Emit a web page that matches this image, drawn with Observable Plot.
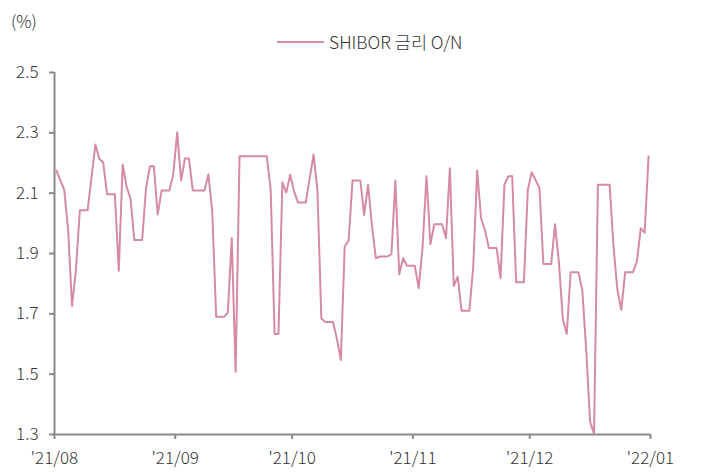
<!DOCTYPE html>
<html>
<head>
<meta charset="utf-8">
<script src="https://cdn.jsdelivr.net/npm/d3@7"></script>
<script src="https://cdn.jsdelivr.net/npm/@observablehq/plot@0.6"></script>
<style>
  html, body { margin: 0; padding: 0; background: #fff; }
  #wrap { position: relative; width: 702px; height: 473px; font-family: "Noto Sans CJK KR", "Noto Sans", sans-serif; font-weight: 300; color: #333; }
  #unit { position: absolute; left: 11px; top: 8px; font-size: 17px; }
  #legend { position: absolute; left: 277px; top: 29px; font-size: 17.5px; display: flex; align-items: center; white-space: nowrap; }
  #legend .sw { width: 47px; height: 2px; background: #d48ba3; margin-right: 5px; }
  #chart { position: absolute; left: 0; top: 0; }
</style>
</head>
<body>
<div id="wrap">
  <div id="chart"></div>
  <div id="unit">(%)</div>
  <div id="legend"><span class="sw"></span><span id="legendLabel"></span></div>
</div>
<script>
const seriesName = "SHIBOR 금리 O/N";
const unitLabel = "(%)";
const dates = ["2021-08-01","2021-08-02","2021-08-04","2021-08-05","2021-08-06","2021-08-07","2021-08-08","2021-08-10","2021-08-12","2021-08-13","2021-08-14","2021-08-15","2021-08-17","2021-08-18","2021-08-19","2021-08-20","2021-08-21","2021-08-22","2021-08-24","2021-08-25","2021-08-26","2021-08-27","2021-08-28","2021-08-29","2021-08-31",
"2021-09-01","2021-09-02","2021-09-03","2021-09-04","2021-09-05","2021-09-06","2021-09-09","2021-09-10","2021-09-11","2021-09-12","2021-09-14","2021-09-15","2021-09-16","2021-09-17","2021-09-18","2021-09-25","2021-09-26","2021-09-27","2021-09-28","2021-09-29","2021-09-30",
"2021-10-01","2021-10-02","2021-10-03","2021-10-05","2021-10-07","2021-10-08","2021-10-09","2021-10-10","2021-10-12","2021-10-13","2021-10-14","2021-10-15","2021-10-16","2021-10-17","2021-10-19","2021-10-20","2021-10-21","2021-10-22","2021-10-23","2021-10-24","2021-10-26","2021-10-27","2021-10-28","2021-10-29","2021-10-30","2021-10-31",
"2021-11-02","2021-11-03","2021-11-04","2021-11-05","2021-11-06","2021-11-07","2021-11-09","2021-11-10","2021-11-11","2021-11-12","2021-11-13","2021-11-14","2021-11-16","2021-11-17","2021-11-18","2021-11-19","2021-11-20","2021-11-21","2021-11-23","2021-11-24","2021-11-25","2021-11-26","2021-11-27","2021-11-28","2021-11-30",
"2021-12-01","2021-12-02","2021-12-04","2021-12-05","2021-12-07","2021-12-08","2021-12-09","2021-12-10","2021-12-11","2021-12-12","2021-12-14","2021-12-15","2021-12-16","2021-12-17","2021-12-18","2021-12-19","2021-12-22","2021-12-23","2021-12-24","2021-12-25","2021-12-26","2021-12-28","2021-12-29","2021-12-30","2021-12-31","2022-01-01"];
const rates = [2.175,2.175,2.111,1.978,1.726,1.845,2.043,2.043,2.261,2.214,2.202,2.096,2.096,1.843,2.195,2.122,2.082,1.945,1.945,2.117,2.189,2.189,2.029,2.109,2.109,
2.164,2.302,2.142,2.215,2.215,2.109,2.109,2.162,2.039,1.690,1.690,1.704,1.951,1.507,2.222,2.222,2.111,1.633,1.633,2.136,2.102,
2.161,2.106,2.069,2.069,2.228,2.111,1.685,1.673,1.673,1.617,1.547,1.923,1.943,2.142,2.142,2.028,2.128,1.992,1.884,1.890,1.890,1.898,2.142,1.831,1.884,1.859,
1.859,1.785,1.923,2.156,1.931,1.997,1.997,1.951,2.183,1.792,1.823,1.710,1.710,1.857,2.175,2.017,1.978,1.918,1.918,1.818,2.128,2.156,2.156,1.805,1.805,
2.111,2.169,2.117,1.865,1.865,1.997,1.868,1.682,1.633,1.838,1.838,1.777,1.580,1.342,1.303,2.128,2.128,1.923,1.779,1.713,1.838,1.838,1.873,1.984,1.969,2.222];
const xTickDates = ["2021-08-01","2021-09-01","2021-10-01","2021-11-01","2021-12-01","2022-01-01"];
const xTickLabels = ["'21/08","'21/09","'21/10","'21/11","'21/12","'22/01"];
const yTicks = [1.3, 1.5, 1.7, 1.9, 2.1, 2.3, 2.5];
const yDomain = [1.3, 2.5];

const xTicks = xTickDates.map(d => new Date(d + "T00:00:00Z"));
const x0 = +xTicks[0];
const HALF_DAY = 12 * 3600 * 1000;
// points sit half a day before each date's midnight (category-centre placement), clamped to the axis start
const data = dates.map((d, i) => ({date: new Date(Math.max(x0, Date.parse(d + "T00:00:00Z") - HALF_DAY)), rate: rates[i]}));
const labelOf = new Map(xTicks.map((d, i) => [+d, xTickLabels[i]]));

document.getElementById("unit").textContent = unitLabel;
document.getElementById("legendLabel").textContent = seriesName;

const axisColor = "#8a8a8a";
const chart = Plot.plot({
  width: 702,
  height: 473,
  marginLeft: 54,
  marginRight: 52,
  marginTop: 72,
  marginBottom: 39,
  style: {fontFamily: '"Noto Sans CJK KR", "Noto Sans", sans-serif', fontWeight: 300, fontSize: "17px", color: "#333", background: "transparent", overflow: "visible"},
  x: {type: "utc", domain: [xTicks[0], xTicks[xTicks.length - 1]]},
  y: {domain: yDomain},
  marks: [
    Plot.axisY({ticks: yTicks, tickFormat: d => d.toFixed(1), tickSize: 5, tickPadding: 11, stroke: axisColor, strokeWidth: 2, strokeOpacity: 1, label: null, fill: "#333", fontSize: 17}),
    Plot.axisX({ticks: xTicks, tickFormat: d => labelOf.get(+d), tickSize: 5, tickPadding: 12, stroke: axisColor, strokeWidth: 2, strokeOpacity: 1, label: null, fill: "#333", fontSize: 17}),
    Plot.ruleX([xTicks[0]], {stroke: axisColor, strokeWidth: 2}),
    Plot.ruleY([yDomain[0]], {stroke: axisColor, strokeWidth: 2}),
    Plot.lineY(data, {x: "date", y: "rate", stroke: "#d48ba3", strokeWidth: 2})
  ]
});
document.getElementById("chart").appendChild(chart);
</script>
</body>
</html>
